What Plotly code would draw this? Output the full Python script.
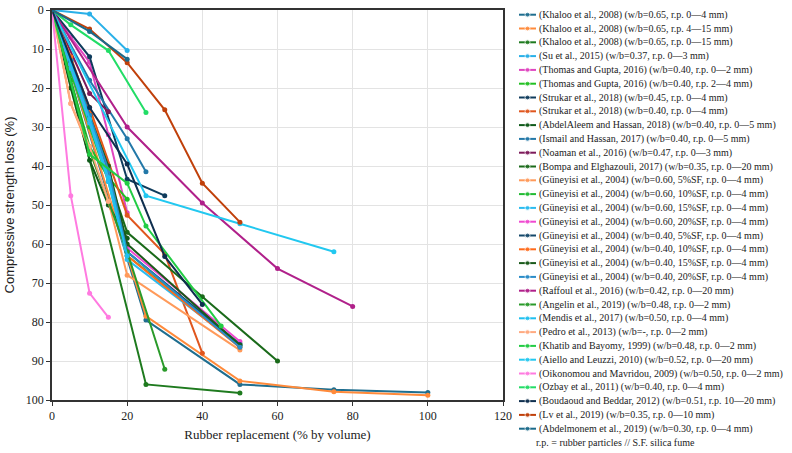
import plotly.graph_objects as go

# ---------------- data ----------------
labels = [
    "(Khaloo et al., 2008) (w/b=0.65, r.p. 0\u20144 mm)",
    "(Khaloo et al., 2008) (w/b=0.65, r.p. 4\u201415 mm)",
    "(Khaloo et al., 2008) (w/b=0.65, r.p. 0\u201415 mm)",
    "(Su et al., 2015) (w/b=0.37, r.p. 0\u20143 mm)",
    "(Thomas and Gupta, 2016) (w/b=0.40, r.p. 0\u20142 mm)",
    "(Thomas and Gupta, 2016) (w/b=0.40, r.p. 2\u20144 mm)",
    "(Strukar et al., 2018) (w/b=0.45, r.p. 0\u20144 mm)",
    "(Strukar et al., 2018) (w/b=0.40, r.p. 0\u20144 mm)",
    "(AbdelAleem and Hassan, 2018) (w/b=0.40, r.p. 0\u20145 mm)",
    "(Ismail and Hassan, 2017) (w/b=0.40, r.p. 0\u20145 mm)",
    "(Noaman et al., 2016) (w/b=0.47, r.p. 0\u20143 mm)",
    "(Bompa and Elghazouli, 2017) (w/b=0.35, r.p. 0\u201420 mm)",
    "(G\u00fcneyisi et al., 2004) (w/b=0.60, 5%SF, r.p. 0\u20144 mm)",
    "(G\u00fcneyisi et al., 2004) (w/b=0.60, 10%SF, r.p. 0\u20144 mm)",
    "(G\u00fcneyisi et al., 2004) (w/b=0.60, 15%SF, r.p. 0\u20144 mm)",
    "(G\u00fcneyisi et al., 2004) (w/b=0.60, 20%SF, r.p. 0\u20144 mm)",
    "(G\u00fcneyisi et al., 2004) (w/b=0.40, 5%SF, r.p. 0\u20144 mm)",
    "(G\u00fcneyisi et al., 2004) (w/b=0.40, 10%SF, r.p. 0\u20144 mm)",
    "(G\u00fcneyisi et al., 2004) (w/b=0.40, 15%SF, r.p. 0\u20144 mm)",
    "(G\u00fcneyisi et al., 2004) (w/b=0.40, 20%SF, r.p. 0\u20144 mm)",
    "(Raffoul et al., 2016) (w/b=0.42, r.p. 0\u201420 mm)",
    "(Angelin et al., 2019) (w/b=0.48, r.p. 0\u20142 mm)",
    "(Mendis et al., 2017) (w/b=0.50, r.p. 0\u20144 mm)",
    "(Pedro et al., 2013) (w/b=-, r.p. 0\u20142 mm)",
    "(Khatib and Bayomy, 1999) (w/b=0.48, r.p. 0\u20142 mm)",
    "(Aiello and Leuzzi, 2010) (w/b=0.52, r.p. 0\u201420 mm)",
    "(Oikonomou and Mavridou, 2009) (w/b=0.50, r.p. 0\u20142 mm)",
    "(Ozbay et al., 2011) (w/b=0.40, r.p. 0\u20144 mm)",
    "(Boudaoud and Beddar, 2012) (w/b=0.51, r.p. 10\u201420 mm)",
    "(Lv et al., 2019) (w/b=0.35, r.p. 0\u201410 mm)",
    "(Abdelmonem et al., 2019) (w/b=0.30, r.p. 0\u20144 mm)",
]
note_text = "r.p. = rubber particles // S.F. silica fume"

x_values = [
    [0, 25, 50, 75, 100],
    [0, 25, 50, 75, 100],
    [0, 25, 50],
    [0, 10, 20],
    [0, 5, 10, 15, 20],
    [0, 5, 10, 15, 20],
    [0, 10, 20, 30],
    [0, 10, 20, 30, 40],
    [0, 5, 10, 15, 20],
    [0, 10, 20, 25],
    [0, 10, 15],
    [0, 20, 40, 60],
    [0, 5, 10, 15, 20, 50],
    [0, 5, 10, 15, 20, 50],
    [0, 5, 10, 15, 20, 50],
    [0, 5, 10, 15, 20, 50],
    [0, 5, 10, 15, 20, 50],
    [0, 5, 10, 15, 20, 50],
    [0, 5, 10, 15, 20, 50],
    [0, 5, 10, 15, 20, 50],
    [0, 20, 40, 60, 80],
    [0, 10, 20, 30],
    [0, 5, 10, 15, 20],
    [0, 5, 10, 15],
    [0, 10, 20, 25, 45],
    [0, 25, 50, 75],
    [0, 5, 10, 15],
    [0, 5, 15, 25],
    [0, 10, 20, 30, 40],
    [0, 10, 20, 30, 40, 50],
    [0, 10, 20],
]
y_values = [
    [0, 79.5, 96.0, 97.4, 98.1],
    [0, 78.5, 95.1, 97.9, 98.8],
    [0, 96.0, 98.2],
    [0, 1.0, 10.4],
    [0, 7.0, 13.4, 32.0, 52.0],
    [0, 18.0, 35.0, 43.0, 48.5],
    [0, 12.0, 43.4, 47.6],
    [0, 25.0, 52.6, 62.6, 88.0],
    [0, 20.0, 38.5, 50.0, 58.5],
    [0, 18.0, 33.0, 41.5],
    [0, 21.4, 26.1],
    [0, 57.0, 73.5, 90.0],
    [0, 24.0, 36.0, 49.0, 68.0, 87.2],
    [0, 16.0, 30.0, 44.0, 63.0, 85.5],
    [0, 15.0, 29.0, 44.0, 64.0, 86.0],
    [0, 14.0, 28.0, 42.0, 61.0, 85.0],
    [0, 13.0, 27.0, 41.0, 62.0, 85.8],
    [0, 12.0, 26.0, 40.0, 63.0, 86.5],
    [0, 13.0, 27.0, 40.0, 60.0, 86.0],
    [0, 13.0, 27.0, 41.0, 62.0, 86.5],
    [0, 30.0, 49.5, 66.3, 76.0],
    [0, 36.0, 62.0, 92.1],
    [0, 14.0, 28.0, 43.0, 63.0],
    [0, 24.0, 35.0, 49.1],
    [0, 37.0, 44.4, 55.4, 81.0],
    [0, 47.6, 54.8, 62.0],
    [0, 47.6, 72.6, 78.8],
    [0, 3.8, 10.4, 26.3],
    [0, 25.0, 39.5, 63.2, 75.5],
    [0, 4.9, 13.5, 25.6, 44.4, 54.4],
    [0, 5.5, 12.6],
]
colors = [
    "#1f6e8f", "#ff8a3a", "#1e7a1e", "#29b0e8", "#e045c0", "#22c022",
    "#0e3b5c", "#e0561e", "#0f5a1a", "#2378a8", "#7d1a5a", "#1a6a1a",
    "#ff9a5a", "#22bb33", "#2abcf0", "#f048d0", "#14486a", "#ff6a1a",
    "#1a5a1a", "#2a8cc8", "#b0208a", "#2a9a2a", "#1ec0f0", "#ffaa80",
    "#22cc44", "#22c8f0", "#ff7ae0", "#22dd66", "#0f2f4f", "#c0400a",
    "#1a6a8a",
]

x_ticks = [0, 20, 40, 60, 80, 100, 120]
y_ticks = [0, 10, 20, 30, 40, 50, 60, 70, 80, 90, 100]

# ---------------- figure ----------------
W, H = 792, 453
FONT = "Liberation Serif"
LEG_SIZE = 10
fig = go.Figure()

for xs, ys, c, lab in zip(x_values, y_values, colors, labels):
    fig.add_trace(go.Scatter(
        x=xs, y=ys, mode="lines+markers", name=lab,
        line=dict(color=c, width=2), marker=dict(color=c, size=5),
        showlegend=False, xaxis="x", yaxis="y"))

# manual legend (plotly's legend cannot be this compact)
LX0 = 510
row0, row_step = 14.7, 13.8
for i, (c, lab) in enumerate(zip(colors, labels)):
    ry = row0 + i * row_step
    fig.add_trace(go.Scatter(
        x=[519, 527.5, 536], y=[ry, ry, ry], mode="lines+markers",
        line=dict(color=c, width=2), marker=dict(color=c, size=[0, 5, 0]),
        showlegend=False, hoverinfo="skip", xaxis="x2", yaxis="y2"))
    fig.add_annotation(x=537, y=ry, xref="x2", yref="y2", text=lab,
                       showarrow=False, xanchor="left", yanchor="middle",
                       font=dict(family=FONT, size=LEG_SIZE, color="#222"))
fig.add_annotation(x=534, y=row0 + len(labels) * row_step, xref="x2", yref="y2",
                   text=note_text, showarrow=False, xanchor="left", yanchor="middle",
                   font=dict(family=FONT, size=LEG_SIZE, color="#222"))

x0, x1, ytop, ybot = 52, 503, 10, 400
fig.update_layout(
    template="none",
    width=W, height=H, margin=dict(l=0, r=0, t=0, b=0, pad=0),
    paper_bgcolor="white", plot_bgcolor="rgba(0,0,0,0)",
    font=dict(family=FONT, size=12, color="#222"),
    xaxis=dict(domain=[x0 / W, x1 / W], range=[0, 120], tickvals=x_ticks,
               automargin=False,
               showgrid=True, gridcolor="#e3e3e3", gridwidth=1,
               showline=True, linecolor="#333", linewidth=1.5, mirror=True,
               ticks="outside", ticklen=4, tickcolor="#333", zeroline=False,
               title=dict(text="Rubber replacement (% by volume)",
                          font=dict(size=13), standoff=8),
               tickfont=dict(size=12), anchor="y"),
    yaxis=dict(domain=[(H - ybot) / H, (H - ytop) / H], range=[100, 0],
               automargin=False,
               tickvals=y_ticks, showgrid=True, gridcolor="#e3e3e3", gridwidth=1,
               showline=True, linecolor="#333", linewidth=1.5, mirror=True,
               ticks="outside", ticklen=4, tickcolor="#333", zeroline=False,
               title=dict(text="Compressive strength loss (%)",
                          font=dict(size=13, family="Liberation Sans"), standoff=8),
               tickfont=dict(size=12), anchor="x"),
    xaxis2=dict(domain=[LX0 / W, 1], range=[LX0, W], visible=False, anchor="y2",
                automargin=False),
    yaxis2=dict(domain=[0, 1], range=[H, 0], visible=False, anchor="x2",
                automargin=False),
)

fig.write_html("out.html")
